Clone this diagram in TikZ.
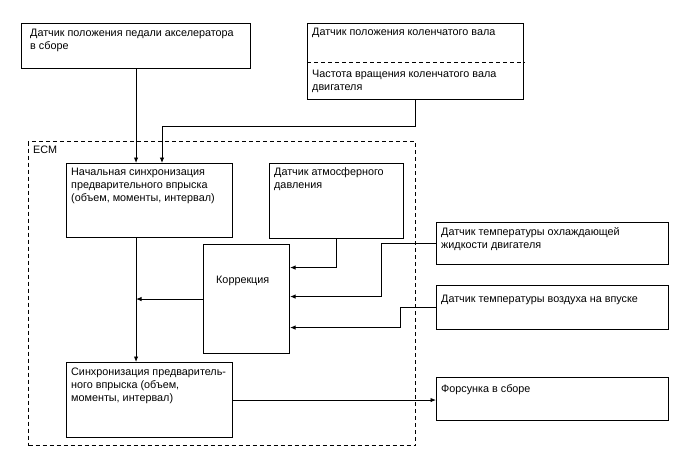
\documentclass[tikz,border=0pt]{standalone}
\usepackage{fontspec}
\setmainfont{Liberation Sans}
\usetikzlibrary{arrows.meta,calc,positioning}
\tikzset{
  ecmbox/.style={draw, line width=1.1pt, anchor=north west, inner sep=0pt},
  ecmtext/.style={anchor=north west, align=left, inner sep=0pt, font=\fontsize{10.8}{13}\selectfont},
  ecmarrow/.style={-{Latex[length=5.5pt,width=4.5pt]}, line width=0.9pt},
  ecmline/.style={line width=0.9pt},
  ecmdash/.style={line width=1pt, dash pattern=on 4pt off 3pt}
}

\begin{document}
\begin{tikzpicture}[x=1pt, y=-1pt]
  \useasboundingbox (0,0) rectangle (688,463);
  % outer sensors
  \node[ecmbox, minimum width=229pt, minimum height=45pt] (pedal) at (21,23) {};
  \node[ecmtext] (pedaltxt) at ([xshift=9pt,yshift=-5.5pt]pedal.north west) {Датчик положения педали акселератора\\в сборе};
  \node[ecmbox, minimum width=216pt, minimum height=76pt] (crank) at (307,23) {};
  \draw[ecmdash] ([yshift=-39pt]crank.north west) coordinate (crankdiv) -- (crankdiv -| crank.east);
  \node[ecmtext] (cranktxt) at ([xshift=5pt,yshift=-4.5pt]crank.north west) {Датчик положения коленчатого вала};
  \node[ecmtext] (rpmtxt) at ([xshift=5pt,yshift=-7.5pt]crankdiv) {Частота вращения коленчатого вала\\двигателя};
  \node[ecmbox, minimum width=232pt, minimum height=42pt] (cool) at (436,222) {};
  \node[ecmtext] (cooltxt) at ([xshift=5pt,yshift=-5.5pt]cool.north west) {Датчик температуры охлаждающей\\жидкости двигателя};
  \node[ecmbox, minimum width=232pt, minimum height=44pt] (air) at (436,285) {};
  \node[ecmtext] (airtxt) at ([xshift=5pt,yshift=-9.5pt]air.north west) {Датчик температуры воздуха на впуске};
  \node[ecmbox, minimum width=232pt, minimum height=43pt] (inj) at (436,377) {};
  \node[ecmtext] (injtxt) at ([xshift=5pt,yshift=-7.5pt]inj.north west) {Форсунка в сборе};

  % ECM
  \node[ecmbox, ecmdash, minimum width=387pt, minimum height=304pt] (ecm) at (28,141) {};
  \node[ecmtext] (ecmtxt) at ([xshift=5pt,yshift=-4.5pt]ecm.north west) {ECM};
  \node[ecmbox, minimum width=166pt, minimum height=74pt] (init) at (66,163) {};
  \node[ecmtext] (inittxt) at ([xshift=5pt,yshift=-4.5pt]init.north west) {Начальная синхронизация\\предварительного впрыска\\(объем, моменты, интервал)};
  \node[ecmbox, minimum width=134pt, minimum height=75pt] (atm) at (269,163) {};
  \node[ecmtext] (atmtxt) at ([xshift=5pt,yshift=-4.5pt]atm.north west) {Датчик атмосферного\\давления};
  \node[ecmbox, minimum width=86pt, minimum height=109pt] (corr) at (203,244) {};
  \node[ecmtext] (corrtxt) at ([xshift=13pt,yshift=-31.5pt]corr.north west) {Коррекция};
  \node[ecmbox, minimum width=166pt, minimum height=75pt] (sync) at (66,362) {};
  \node[ecmtext] (synctxt) at ([xshift=5pt,yshift=-5.5pt]sync.north west) {Синхронизация предваритель-\\ного впрыска (объем,\\моменты, интервал)};

  % connectors
  \coordinate (crankbend) at (162,126);
  \draw[ecmarrow] (pedal.south) -- (pedal.south |- init.north);
  \draw[ecmarrow] (crank.south) |- (crankbend) -- (crankbend |- init.north);
  \draw[ecmarrow] (pedal.south |- init.south) -- (pedal.south |- sync.north);
  \draw[ecmarrow] (corr.west) -- (corr.west -| pedal.south);
  \draw[ecmarrow] (atm.south) |- ([yshift=31.5pt]corr.east);
  \draw[ecmarrow] (cool.west) -- ++(-55,0) |- ([yshift=2.5pt]corr.east);
  \draw[ecmarrow] (air.west) -- ++(-36,0) |- ([yshift=-28.5pt]corr.east);
  \draw[ecmarrow] (sync.east) -- (sync.east -| inj.west);
\end{tikzpicture}
\end{document}
